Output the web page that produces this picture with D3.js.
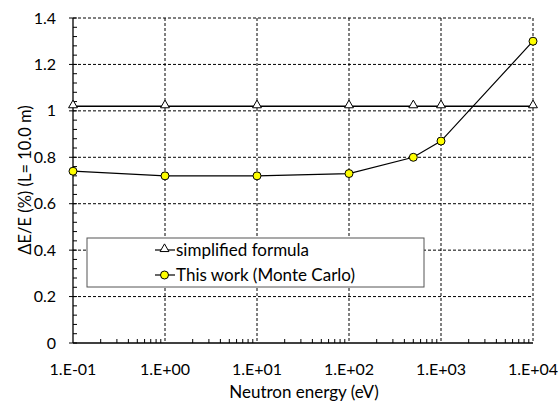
<!DOCTYPE html>
<html><head><meta charset="utf-8">
<script src="https://cdn.jsdelivr.net/npm/d3@7"></script>
<style>body{margin:0;background:#fff}svg{display:block}text{font-family:Lato,"Open Sans",sans-serif;fill:#000}</style>
</head><body><svg id="c" width="559" height="403"></svg>
<script>
const energies = [0.1, 1, 10, 100, 500, 1000, 10000];
const simplified = [1.02, 1.02, 1.02, 1.02, 1.02, 1.02, 1.02];
const monteCarlo = [0.74, 0.72, 0.72, 0.73, 0.80, 0.87, 1.30];
const xTicks = [0.1, 1, 10, 100, 1000, 10000];
const xTickLabels = ["1.E-01","1.E+00","1.E+01","1.E+02","1.E+03","1.E+04"];
const yTicks = [0, 0.2, 0.4, 0.6, 0.8, 1, 1.2, 1.4];
const yTickLabels = ["0","0.2","0.4","0.6","0.8","1","1.2","1.4"];
const seriesNames = ["simplified formula", "This work (Monte Carlo)"];

const svg = d3.select("#c");
const L = 73, R = 533, T = 18, B = 343;
const x = d3.scaleLog().domain([0.1, 10000]).range([L, R]);
const y = d3.scaleLinear().domain([0, 1.4]).range([B, T]);

// grid
const g = svg.append("g");
g.selectAll(".gx").data(xTicks.slice(1)).enter().append("line")
  .attr("x1", d => x(d)).attr("x2", d => x(d)).attr("y1", T).attr("y2", B)
  .attr("stroke", "#000").attr("stroke-width", 1).attr("stroke-dasharray", "3,2");
g.selectAll(".gy").data(yTicks.slice(1)).enter().append("line")
  .attr("x1", L).attr("x2", R).attr("y1", d => y(d)).attr("y2", d => y(d))
  .attr("stroke", "#000").attr("stroke-width", 1).attr("stroke-dasharray", "3,2");

// minor ticks y
const yMinor = d3.range(0, 1.4001, 0.04);
g.selectAll(".my").data(yMinor).enter().append("line")
  .attr("x1", L).attr("x2", L + 4).attr("y1", d => y(d)).attr("y2", d => y(d))
  .attr("stroke", "#000").attr("stroke-width", 1);
// major ticks y outward
g.selectAll(".My").data(yTicks).enter().append("line")
  .attr("x1", L - 4).attr("x2", L).attr("y1", d => y(d)).attr("y2", d => y(d))
  .attr("stroke", "#000").attr("stroke-width", 1);
// minor ticks x
const xMinor = [];
xTicks.slice(0, -1).forEach(d => { for (let k = 2; k <= 9; k++) xMinor.push(d * k); });
g.selectAll(".mx").data(xMinor).enter().append("line")
  .attr("x1", d => x(d)).attr("x2", d => x(d)).attr("y1", B).attr("y2", B - 4)
  .attr("stroke", "#000").attr("stroke-width", 1);

// axes
g.append("line").attr("x1", L).attr("x2", L).attr("y1", T).attr("y2", B).attr("stroke", "#000").attr("stroke-width", 1.3);
g.append("line").attr("x1", L).attr("x2", R).attr("y1", B).attr("y2", B).attr("stroke", "#000").attr("stroke-width", 1.3);

// tick labels
svg.selectAll(".yl").data(yTicks).enter().append("text")
  .attr("x", 56).attr("y", d => y(d)).attr("dy", "0.35em").attr("text-anchor", "end")
  .attr("font-size", 16).text((d, i) => yTickLabels[i]);
svg.selectAll(".xl").data(xTicks).enter().append("text")
  .attr("x", d => x(d)).attr("y", 369).attr("dy", "0.35em").attr("text-anchor", "middle")
  .attr("font-size", 16).text((d, i) => xTickLabels[i]);

// axis titles
svg.append("text").attr("x", 304).attr("y", 392).attr("dy", "0.35em").attr("text-anchor", "middle")
  .attr("font-size", 17).text("Neutron energy (eV)");
svg.append("text").attr("transform", "translate(25,180) rotate(-90)").attr("dy", "0.35em")
  .attr("text-anchor", "middle").attr("font-size", 16.5).text("ΔE/E (%) (L= 10.0 m)");

// lines
const line = d3.line().x((d, i) => x(energies[i])).y(d => y(d));
svg.append("path").datum(simplified).attr("d", line).attr("fill", "none").attr("stroke", "#000").attr("stroke-width", 1.5);
svg.append("path").datum(monteCarlo).attr("d", line).attr("fill", "none").attr("stroke", "#000").attr("stroke-width", 1.2);

const tri = d3.symbol().type(d3.symbolTriangle).size(34);
svg.selectAll(".tri").data(simplified).enter().append("path")
  .attr("d", tri).attr("transform", (d, i) => `translate(${x(energies[i])},${y(d) - 1})`)
  .attr("fill", "#fff").attr("stroke", "#000").attr("stroke-width", 1);
svg.selectAll(".cir").data(monteCarlo).enter().append("circle")
  .attr("cx", (d, i) => x(energies[i])).attr("cy", d => y(d)).attr("r", 4)
  .attr("fill", "#ffff00").attr("stroke", "#000").attr("stroke-width", 1);

// legend
const lg = svg.append("g");
lg.append("rect").attr("x", 87).attr("y", 238).attr("width", 337).attr("height", 49)
  .attr("fill", "#fff").attr("stroke", "#555").attr("stroke-width", 1);
const rows = [250, 275];
rows.forEach((ry, i) => {
  lg.append("line").attr("x1", 155).attr("x2", 175).attr("y1", ry).attr("y2", ry).attr("stroke", "#000").attr("stroke-width", 1.2);
  if (i === 0) lg.append("path").attr("d", tri).attr("transform", `translate(164.5,${ry - 1})`).attr("fill", "#fff").attr("stroke", "#000");
  else lg.append("circle").attr("cx", 164.5).attr("cy", ry).attr("r", 4).attr("fill", "#ffff00").attr("stroke", "#000");
  lg.append("text").attr("x", 176).attr("y", ry).attr("dy", "0.35em").attr("font-size", 17).text(seriesNames[i]);
});
</script></body></html>
